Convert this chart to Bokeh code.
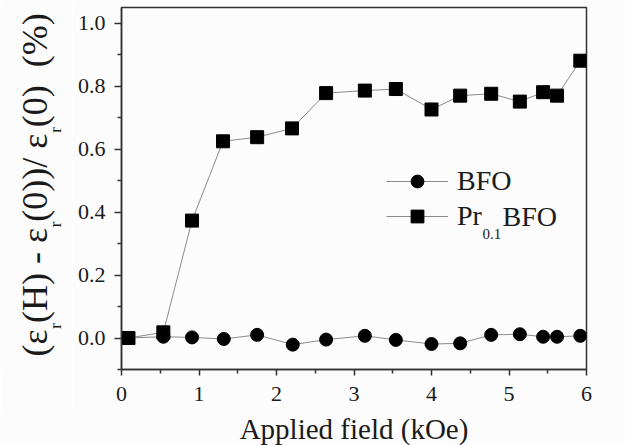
import math
from bokeh.plotting import figure
from bokeh.layouts import row, column
from bokeh.models import FixedTicker, Range1d, Label, Legend, LegendItem
from bokeh.embed import file_html
from bokeh.resources import INLINE

# ---- data ----
field_bfo = [0.07, 0.54, 0.91, 1.32, 1.75, 2.21, 2.64, 3.14, 3.54, 4.00, 4.37, 4.77, 5.14, 5.44, 5.62, 5.92]
mde_bfo = [0.0, 0.004, 0.002, -0.003, 0.010, -0.021, -0.005, 0.007, -0.006, -0.019, -0.017, 0.010, 0.012, 0.004, 0.004, 0.007]
field_pr = [0.09, 0.54, 0.91, 1.31, 1.75, 2.20, 2.64, 3.14, 3.54, 4.00, 4.37, 4.77, 5.14, 5.44, 5.62, 5.92]
mde_pr = [0.0, 0.018, 0.373, 0.625, 0.638, 0.666, 0.778, 0.786, 0.791, 0.726, 0.770, 0.776, 0.751, 0.781, 0.770, 0.881]

x_ticks = [0, 1, 2, 3, 4, 5, 6]
x_minor = [0.5, 1.5, 2.5, 3.5, 4.5, 5.5]
y_ticks = [0.0, 0.2, 0.4, 0.6, 0.8, 1.0]
y_minor = [-0.1, 0.1, 0.3, 0.5, 0.7, 0.9]

W, H = 625, 445
LW = 72                                 # width of the strip holding the y title
HP = 414                                # height of the row holding the plot
FL, FR, FT, FB = 121, 586, 7, 369       # frame edges on the page (pixels)
FONT = "Liberation Serif"
INK = "#1a1a1a"
AX = "#333333"
BG = "#fcfcfc"
MID = 0.3375                            # baseline offset of a "middle" anchored text, in em

p = figure(width=W - LW, height=HP, x_range=Range1d(0, 6), y_range=Range1d(-0.1, 1.05),
           output_backend="svg", toolbar_location=None,
           min_border_left=FL - LW, min_border_right=W - FR, min_border_top=FT, min_border_bottom=HP - FB)
p.background_fill_color = BG
p.border_fill_color = BG
p.outline_line_color = AX
p.outline_line_width = 1.5
p.xgrid.visible = False
p.ygrid.visible = False

p.xaxis.ticker = FixedTicker(ticks=x_ticks, minor_ticks=x_minor)
p.yaxis.ticker = FixedTicker(ticks=y_ticks, minor_ticks=y_minor)
p.yaxis.major_label_overrides = {t: f"{t:.1f}" for t in y_ticks}
p.axis.axis_line_color = AX
p.axis.axis_line_width = 1.5
p.axis.major_tick_line_color = AX
p.axis.minor_tick_line_color = AX
p.axis.major_tick_line_width = 1.5
p.axis.minor_tick_line_width = 1.5
p.axis.major_tick_in = 0
p.axis.minor_tick_in = 0
p.axis.minor_tick_out = 4
p.xaxis.major_tick_out = 6
p.yaxis.major_tick_out = 7
p.axis.major_label_text_font = FONT
p.axis.major_label_text_font_size = "22px"
p.axis.major_label_text_color = INK
p.xaxis.major_label_standoff = 11
p.yaxis.major_label_standoff = 9

LINE = "#8a8a8a"
l1 = p.line(field_bfo, mde_bfo, line_color=LINE, line_width=1)
s1 = p.scatter(field_bfo, mde_bfo, marker="circle", size=13, fill_color="black", line_color="black")
l2 = p.line(field_pr, mde_pr, line_color=LINE, line_width=1)
s2 = p.scatter(field_pr, mde_pr, marker="square", size=13, fill_color="black", line_color="black")


def fx(ix):  # page x -> frame-relative screen x
    return ix - FL


def fy(iy):  # page y -> frame-relative screen y (upwards from frame bottom)
    return FB - iy


# ---- legend ----
legend = Legend(items=[LegendItem(label="BFO", renderers=[l1, s1]),
                       LegendItem(label="Pr", renderers=[l2, s2])],
                location=(fx(386), fy(216) - 16), glyph_width=62, glyph_height=32, label_height=32,
                spacing=3, padding=0, margin=0, label_standoff=9,
                label_text_font=FONT, label_text_font_size="28px", label_text_color=INK,
                border_line_color=None, background_fill_alpha=0)
p.add_layout(legend, "center")


def lab(fig, text, x, y, size, angle=0.0, align="left"):
    fig.add_layout(Label(x=x, y=y, x_units="screen", y_units="screen", text=text,
                         text_font=FONT, text_font_size=f"{size}px", text_color=INK,
                         angle=angle, text_align=align, text_baseline="middle"))


# legend subscript pieces for Pr0.1BFO
lab(p, "0.1", fx(482), fy(233), 15)
lab(p, "BFO", fx(502), fy(216), 28)


def strip(width, height):
    f = figure(width=width, height=height, x_range=Range1d(0, 1), y_range=Range1d(0, 1),
               output_backend="svg", toolbar_location=None,
               x_axis_location=None, y_axis_location=None,
               min_border_left=0, min_border_right=0, min_border_top=0, min_border_bottom=0)
    f.background_fill_color = BG
    f.border_fill_color = BG
    f.outline_line_color = None
    f.xgrid.visible = False
    f.ygrid.visible = False
    return f


# ---- y title strip (its frame lines up with the plot frame): rotated pieces with subscripts ----
q = strip(LW, HP)
MAIN, SUB = 36, 17
BASE_MAIN, BASE_SUB = 47, 61            # page x of the text baselines
metrics = {"(": .333, ")": .333, "H": .722, " ": .25, "-": .333, "0": .5, "/": .278,
           "%": .833, "ε": .439, "r": .333}
pieces = [("(ε", 0), ("r", 1), ("(H) - ε", 0), ("r", 1),
          ("(0))/ ε", 0), ("r", 1), ("(0)", 0), ("  ", -1), ("(%)", 0)]
pos = FB - 356
for text, kind in pieces:
    size = SUB if kind == 1 else MAIN
    base = BASE_SUB if kind == 1 else BASE_MAIN
    if kind >= 0:
        lab(q, text, base - MID * size, pos, size, angle=math.pi / 2)
    pos += sum(metrics[c] for c in text) * size

# ---- x title strip ----
s = strip(W, H - HP)
XT = 29
lab(s, "Applied field (kOe)", (FL + FR) / 2, (H - 438) + MID * XT, XT, align="center")

layout = column(row(q, p, spacing=0), s, spacing=0)
open("out.html", "w").write(file_html(layout, INLINE))
